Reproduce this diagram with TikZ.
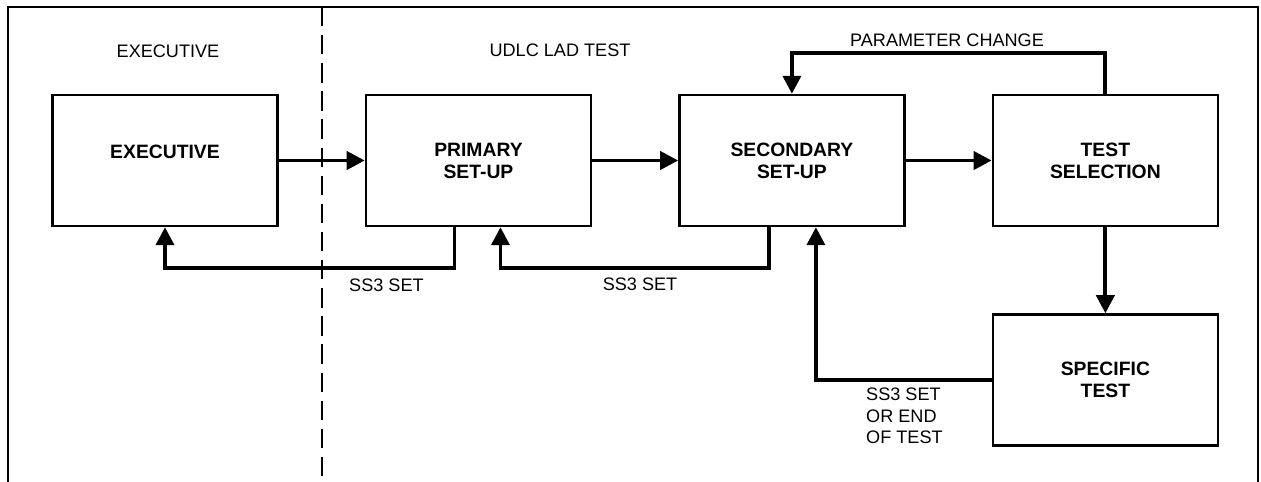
\documentclass[tikz,border=0pt]{standalone}
\usepackage{fontspec}
\setmainfont{Liberation Sans}
\usetikzlibrary{arrows.meta, positioning}

\begin{document}
\begin{tikzpicture}[
    font=\fontsize{10.3}{12.3}\selectfont,
    >={Triangle[length=3.6mm, width=3.6mm]},
    node distance=1.72cm,
    block/.style={draw, line width=1.4pt, minimum width=4.5cm, minimum height=2.62cm,
        align=center, font=\fontsize{11}{12.5}\selectfont\bfseries},
    flow/.style={->, line width=2.2pt},
]
    \useasboundingbox (0,0) rectangle (25.22,-9.64);
    % frame and divider
    \draw[line width=1pt] (0.16,-9.64) -- (0.16,-0.14) -- (25.16,-0.14) -- (25.16,-9.64);
    \draw[line width=1pt, dash pattern=on 11pt off 5pt] (6.44,-0.14) -- (6.44,-9.64);
    % headings
    \node (hexec) at (3.36,-1.02) {EXECUTIVE};
    \node (hudlc) at (11.2,-1.0) {UDLC LAD TEST};
    % blocks
    \node[block] (exec) at (3.3,-3.21) {EXECUTIVE\\[-2.3pt]};
    \node[block, right=of exec] (prim) {PRIMARY\\SET-UP};
    \node[block, right=of prim] (sec) {SECONDARY\\SET-UP};
    \node[block, right=of sec] (sel) {TEST\\SELECTION};
    \node[block, below=of sel] (spec) {SPECIFIC\\TEST};
    % forward flow
    \draw[flow] (exec) -- (prim);
    \draw[flow] (prim) -- (sec);
    \draw[flow] (sec) -- (sel);
    \draw[flow] (sel) -- (spec);
    % returns
    \draw[flow] ([xshift=-0.48cm]prim.south) -- ++(0,-0.82) -| (exec.south);
    \node[anchor=west] (ret1) at (6.86,-5.7) {SS3 SET};
    \draw[flow] ([xshift=-0.46cm]sec.south) -- ++(0,-0.82) -| ([xshift=0.44cm]prim.south);
    \node (ret2) at (12.8,-5.68) {SS3 SET};
    \draw[flow] (spec.west) -| ([xshift=0.48cm]sec.south);
    \node[anchor=west, align=left] (ret3) at (17.2,-8.32) {SS3 SET\\OR END\\OF TEST};
    \draw[flow] (sel.north) -- ++(0,0.82) -| (sec.north);
    \node (pchg) at (18.94,-0.8) {PARAMETER CHANGE};
\end{tikzpicture}
\end{document}
